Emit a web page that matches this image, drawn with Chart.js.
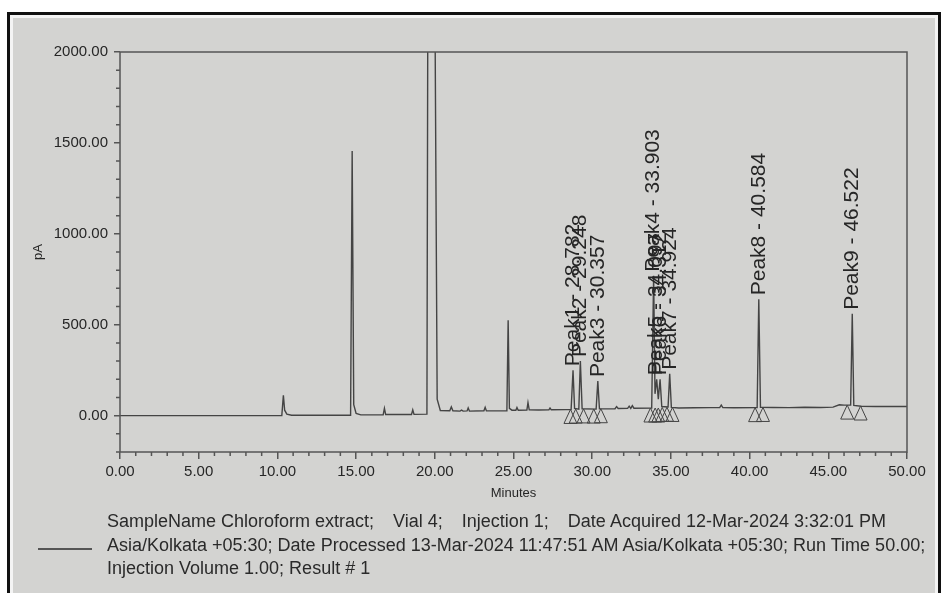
<!DOCTYPE html>
<html>
<head>
<meta charset="utf-8">
<script src="https://cdn.jsdelivr.net/npm/chart.js@4.4.1/dist/chart.umd.min.js"></script>
<style>
html, body { margin: 0; padding: 0; background: #fff; width: 942px; height: 593px; overflow: hidden;
  font-family: 'Liberation Sans', Arial, sans-serif; }
#frame { position: absolute; left: 7px; top: 12px; width: 934px; height: 590px; box-sizing: border-box;
  border: 3px solid #111; border-bottom: none; background: #f4f4f4; }
#paper { position: absolute; left: 3px; top: 3px; right: 3px; bottom: 0; background: #d3d3d1; }
#chart { position: absolute; left: 0; top: 0; }
#legendLine { position: absolute; left: 38px; top: 548px; width: 54px; height: 2px; background: #555; }
#footer { position: absolute; left: 107px; top: 510px; font-size: 18px; line-height: 23.5px; color: #2a2a2a; white-space: pre; }
#footer span { margin-left: 19px; }
</style>
</head>
<body>
<div id="frame"><div id="paper"></div></div>
<canvas id="chart" width="942" height="593"></canvas>
<div id="legendLine"></div>
<div id="footer">SampleName Chloroform extract;<span>Vial 4;</span><span>Injection 1;</span><span>Date Acquired 12-Mar-2024 3:32:01 PM</span>
Asia/Kolkata +05:30; Date Processed 13-Mar-2024 11:47:51 AM Asia/Kolkata +05:30; Run Time 50.00;
Injection Volume 1.00; Result # 1</div>

<script>
// chromatogram trace (minutes / pA)
const rtMin = [
  0, 10.28, 10.38, 10.46, 10.6, 10.9, 14.65, 14.75, 14.85, 15.0, 15.3,
  16.72, 16.8, 16.88, 18.52, 18.6, 18.68, 19.5, 19.56, 20.0, 20.15, 20.35,
  20.95, 21.05, 21.15, 21.6, 21.7, 21.8, 22.05, 22.12, 22.2, 23.12, 23.2, 23.28,
  24.58, 24.66, 24.74, 24.9, 25.15, 25.22, 25.3, 25.85, 25.92, 26.0, 26.6,
  27.25, 27.32, 27.4, 28.3, 28.66, 28.782, 28.88, 29.15, 29.248, 29.36,
  30.25, 30.357, 30.46, 31.0, 31.45, 31.55, 31.65, 32.25, 32.35, 32.45, 32.55, 32.65,
  33.78, 33.903, 33.99, 34.097, 34.2, 34.312, 34.42, 34.82, 34.924, 35.03,
  35.5, 36.5, 37.5, 38.1, 38.2, 38.3, 39.0, 40.48, 40.584, 40.69,
  41.5, 42.5, 43.5, 44.5, 45.3, 45.7, 46.0, 46.42, 46.522, 46.62, 47.1, 48.0, 49.0, 50
];
const signalPA = [
  0, 0, 112, 30, 8, 2, 2, 1456, 60, 12, 4,
  4, 40, 6, 6, 32, 7, 8, 2400, 2400, 90, 28,
  27, 48, 27, 25, 30, 25, 26, 42, 25, 27, 46, 26,
  27, 524, 40, 30, 30, 45, 30, 31, 72, 32, 31,
  32, 42, 32, 33, 34, 250, 40, 36, 300, 38,
  36, 190, 38, 37, 38, 50, 39, 40, 52, 40, 55, 41,
  42, 770, 120, 200, 90, 200, 50, 48, 230, 45,
  42, 43, 44, 44, 58, 44, 43, 44, 640, 46,
  45, 44, 46, 45, 47, 60, 58, 58, 560, 56, 52, 50, 50, 50
];

// integrated peaks
const peakNames   = ['Peak1', 'Peak2', 'Peak3', 'Peak4', 'Peak5', 'Peak6', 'Peak7', 'Peak8', 'Peak9'];
const peakTimes   = [28.782, 29.248, 30.357, 33.903, 34.097, 34.312, 34.924, 40.584, 46.522];
const peakHeights = [250, 300, 190, 770, 200, 200, 230, 640, 560];

// peak start / end markers on the baseline
const markerTimes  = [28.62, 28.95, 29.45, 30.1, 30.55, 33.7, 34.0, 34.2, 34.45, 34.75, 35.1, 40.35, 40.85, 46.2, 47.05];
const markerLevels = [34, 36, 37, 36, 38, 42, 42, 42, 45, 46, 45, 44, 45, 58, 53];

// axis ticks
const xMajorTicks = [0, 5, 10, 15, 20, 25, 30, 35, 40, 45, 50];
const yMajorTicks = [0, 500, 1000, 1500, 2000];

const inkColor  = '#262626';
const axisColor = '#555';
Chart.defaults.font.family = "'Liberation Sans', Arial, sans-serif";
Chart.defaults.color = inkColor;

const decorPlugin = {
    id: 'decor',
    afterDatasetsDraw(chart) {
        const { ctx, chartArea: a, scales: { x, y } } = chart;
        ctx.save();
        // box round the plot
        ctx.strokeStyle = axisColor;
        ctx.lineWidth = 1.5;
        ctx.strokeRect(a.left, a.top, a.right - a.left, a.bottom - a.top);

        // minor ticks
        ctx.beginPath();
        for (let v = y.min; v <= y.max; v += 100) {
            if (yMajorTicks.includes(v)) continue;
            const py = y.getPixelForValue(v);
            ctx.moveTo(a.left - 4, py); ctx.lineTo(a.left, py);
        }
        for (let m = x.min; m <= x.max; m += 1) {
            if (xMajorTicks.includes(m)) continue;
            const px = x.getPixelForValue(m);
            ctx.moveTo(px, a.bottom); ctx.lineTo(px, a.bottom + 4);
        }
        ctx.stroke();

        // peak start/end triangles
        ctx.lineWidth = 1;
        ctx.strokeStyle = '#444';
        ctx.beginPath();
        markerTimes.forEach((t, i) => {
            const px = x.getPixelForValue(t);
            const py = y.getPixelForValue(markerLevels[i]);
            ctx.moveTo(px, py);
            ctx.lineTo(px - 6.5, py + 14);
            ctx.lineTo(px + 6.5, py + 14);
            ctx.closePath();
        });
        ctx.stroke();

        // peak labels, written upwards from the apex
        ctx.font = "21px 'Liberation Sans', Arial, sans-serif";
        ctx.fillStyle = inkColor;
        ctx.textAlign = 'left';
        ctx.textBaseline = 'middle';
        peakNames.forEach((name, i) => {
            const px = x.getPixelForValue(peakTimes[i]);
            const py = y.getPixelForValue(peakHeights[i]);
            ctx.save();
            ctx.translate(px, py - 4);
            ctx.rotate(-Math.PI / 2);
            ctx.fillText(name + ' - ' + peakTimes[i].toFixed(3), 0, 0);
            ctx.restore();
        });
        ctx.restore();
    }
};

new Chart(document.getElementById('chart'), {
    type: 'line',
    data: {
        datasets: [{
            label: 'Chloroform extract',
            data: rtMin.map((t, i) => ({ x: t, y: signalPA[i] })),
            borderColor: '#444',
            borderWidth: 1.4,
            pointRadius: 0,
            tension: 0,
            fill: false
        }]
    },
    options: {
        responsive: false,
        animation: false,
        devicePixelRatio: 1,
        layout: { padding: { left: 0, top: 52, right: 35, bottom: 0 } },
        plugins: { legend: { display: false }, tooltip: { enabled: false } },
        scales: {
            x: {
                type: 'linear',
                min: 0,
                max: 50,
                afterFit: s => { s.height = 141; },
                afterBuildTicks: s => { s.ticks = xMajorTicks.map(v => ({ value: v })); },
                border: { display: false },
                grid: { drawOnChartArea: false, drawTicks: true, tickLength: 7, color: axisColor, lineWidth: 1.5 },
                ticks: { autoSkip: false, maxRotation: 0, padding: 4, font: { size: 15 }, callback: v => v.toFixed(2) },
                title: { display: true, text: 'Minutes', font: { size: 13 }, padding: { top: 0, bottom: 92 } }
            },
            y: {
                type: 'linear',
                min: -200,
                max: 2000,
                afterFit: s => { s.width = 120; },
                afterBuildTicks: s => { s.ticks = yMajorTicks.map(v => ({ value: v })); },
                border: { display: false },
                grid: { drawOnChartArea: false, drawTicks: true, tickLength: 6, color: axisColor, lineWidth: 1.5 },
                ticks: { padding: 6, font: { size: 15 }, callback: v => v.toFixed(2) },
                title: { display: true, text: 'pA', font: { size: 13 }, padding: { top: 31, bottom: 0 } }
            }
        }
    },
    plugins: [decorPlugin]
});
</script>
</body>
</html>
